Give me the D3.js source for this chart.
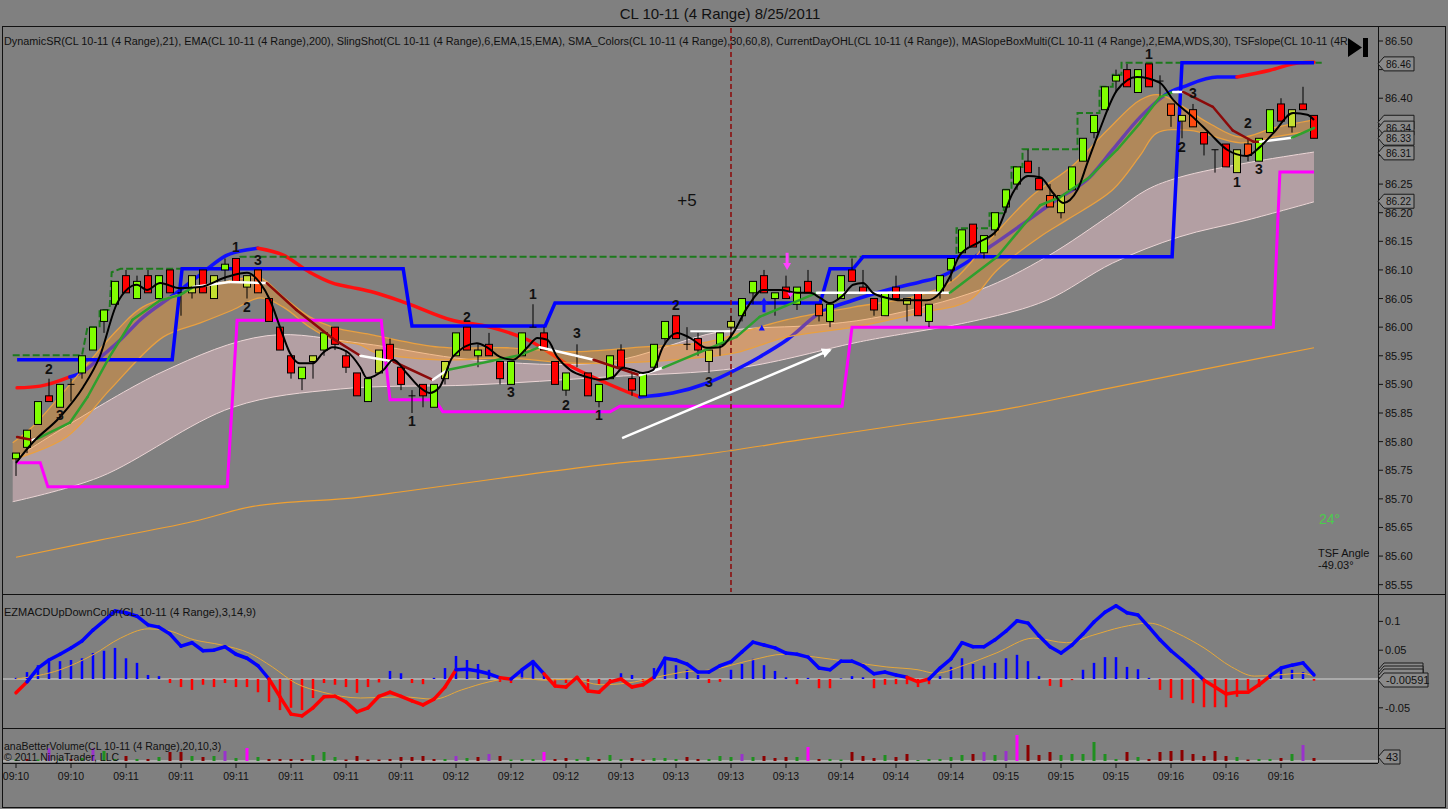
<!DOCTYPE html>
<html>
<head>
<meta charset="utf-8">
<script src="https://cdn.jsdelivr.net/npm/d3@7/dist/d3.min.js"></script>
<style>
  html, body { margin: 0; padding: 0; background: #808080; }
  svg { display: block; font-family: Arial, "Liberation Sans", sans-serif; }
</style>
</head>
<body>
<svg id="chart" width="1448" height="809"></svg>
<script>
// ---- price bars: [open, high, low, close], one per 4-tick range bar
const bars = [
  [85.77,85.78,85.74,85.78],[85.79,85.82,85.78,85.82],[85.83,85.87,85.83,85.87],[85.88,85.91,85.87,85.87],[85.86,85.90,85.86,85.90],
  [85.90,85.91,85.87,85.90],[85.92,85.95,85.91,85.95],[85.96,86.00,85.96,86.00],[86.01,86.03,85.99,86.03],[86.04,86.08,86.04,86.08],
  [86.09,86.10,86.06,86.06],[86.05,86.09,86.05,86.08],[86.09,86.10,86.06,86.06],[86.05,86.09,86.05,86.09],[86.10,86.10,86.06,86.06],
  [86.06,86.07,86.02,86.06],[86.06,86.09,86.05,86.09],[86.10,86.10,86.06,86.06],[86.05,86.09,86.05,86.09],[86.10,86.12,86.08,86.11],
  [86.12,86.12,86.08,86.08],[86.07,86.09,86.05,86.09],[86.10,86.10,86.06,86.06],[86.05,86.05,86.01,86.01],[86.00,86.00,85.96,85.96],
  [85.95,85.95,85.91,85.92],[85.91,85.93,85.89,85.93],[85.94,85.95,85.91,85.95],[85.96,85.99,85.95,85.99],[86.00,86.00,85.96,85.97],
  [85.95,85.96,85.92,85.93],[85.92,85.92,85.88,85.88],[85.87,85.91,85.87,85.91],[85.92,85.96,85.92,85.96],[85.97,85.98,85.94,85.94],
  [85.93,85.93,85.89,85.90],[85.88,85.89,85.85,85.88],[85.90,85.90,85.86,85.88],[85.86,85.90,85.86,85.90],[85.91,85.94,85.90,85.94],
  [85.95,85.99,85.95,85.99],[86.00,86.00,85.96,85.96],[85.95,85.97,85.93,85.96],[85.97,85.99,85.95,85.95],[85.94,85.94,85.90,85.91],
  [85.90,85.94,85.90,85.94],[85.95,85.99,85.95,85.99],[86.00,86.04,86.00,86.00],[85.99,86.00,85.96,85.96],[85.94,85.94,85.90,85.90],
  [85.89,85.92,85.88,85.92],[85.95,85.97,85.93,85.95],[85.92,85.92,85.88,85.88],[85.87,85.90,85.86,85.90],[85.91,85.95,85.91,85.95],
  [85.96,85.97,85.93,85.93],[85.91,85.92,85.88,85.89],[85.88,85.92,85.88,85.92],[85.93,85.97,85.93,85.97],[85.98,86.01,85.97,86.01],
  [86.02,86.02,85.98,85.98],[85.97,86.00,85.96,85.97],[85.98,85.99,85.95,85.96],[85.94,85.96,85.92,85.96],[85.97,85.99,85.95,85.99],
  [86.00,86.02,85.98,86.01],[86.02,86.05,86.01,86.05],[86.06,86.08,86.04,86.08],[86.09,86.10,86.06,86.06],[86.05,86.06,86.02,86.06],
  [86.07,86.09,86.05,86.05],[86.04,86.07,86.03,86.07],[86.08,86.10,86.06,86.06],[86.04,86.04,86.01,86.02],[86.01,86.04,86.00,86.04],
  [86.05,86.09,86.05,86.09],[86.10,86.12,86.08,86.08],[86.07,86.10,86.06,86.06],[86.05,86.05,86.02,86.03],[86.02,86.06,86.02,86.06],
  [86.07,86.09,86.05,86.05],[86.04,86.05,86.01,86.05],[86.06,86.06,86.02,86.02],[86.01,86.04,86.00,86.04],[86.06,86.09,86.05,86.09],
  [86.10,86.12,86.08,86.12],[86.13,86.17,86.13,86.17],[86.18,86.18,86.14,86.14],[86.13,86.16,86.12,86.16],[86.17,86.20,86.16,86.20],
  [86.21,86.24,86.20,86.24],[86.25,86.28,86.24,86.28],[86.29,86.31,86.27,86.27],[86.26,86.28,86.24,86.24],[86.23,86.25,86.21,86.21],
  [86.20,86.23,86.19,86.23],[86.24,86.28,86.24,86.28],[86.29,86.33,86.29,86.33],[86.34,86.37,86.33,86.37],[86.38,86.42,86.38,86.42],
  [86.43,86.45,86.41,86.44],[86.45,86.46,86.42,86.42],[86.41,86.45,86.41,86.45],[86.46,86.46,86.42,86.42],[86.43,86.44,86.40,86.43],
  [86.39,86.39,86.35,86.37],[86.36,86.37,86.33,86.37],[86.38,86.39,86.35,86.35],[86.34,86.34,86.30,86.32],[86.31,86.31,86.27,86.31],
  [86.32,86.32,86.28,86.28],[86.27,86.31,86.27,86.31],[86.32,86.33,86.29,86.30],[86.29,86.33,86.29,86.33],[86.34,86.38,86.34,86.38],
  [86.39,86.40,86.36,86.36],[86.35,86.38,86.34,86.38],[86.39,86.42,86.38,86.38],[86.37,86.37,86.33,86.33]
];
const yellowBars = [16,18,21,27,33,39,63,65,81,95,106,111,116];
const orangeBars = [22,73,94,105,107,112];

const timeLabels = ['09:10','09:10','09:11','09:11','09:11','09:11','09:11','09:11','09:12','09:12','09:12','09:13',
  '09:13','09:13','09:13','09:14','09:14','09:14','09:15','09:15','09:15','09:16','09:16','09:16'];
const priceTicks = d3.range(0, 20).map(k => +(85.55 + k * 0.05).toFixed(2));
const macdTicks = [0.1, 0.05, -0.05];

// ---- overlay indicators, [bar index, price]
const fastMa = [[0,85.763],[1.5,85.798],[4,85.843],[6.1,85.895],[7.6,85.948],[9.2,86.042],[11,86.074],[11.9,86.065],[13.1,86.077],
  [14.9,86.068],[16.7,86.070],[19.2,86.088],[21,86.095],[22.2,86.077],[23.1,86.047],[24,86.000],[24.9,85.955],[25.8,85.937],[27,85.937],
  [27.9,85.955],[28.8,85.965],[30.1,85.957],[31.3,85.930],[31.9,85.911],[33.4,85.925],[34.3,85.943],[35.5,85.920],[36.7,85.895],
  [37.6,85.885],[38.5,85.895],[39.7,85.948],[41.9,85.972],[42.8,85.965],[44,85.948],[45.2,85.943],[46.5,85.965],[47.4,85.981],
  [48.3,85.978],[49.2,85.948],[50.4,85.925],[51.9,85.913],[53.1,85.908],[54.3,85.913],[55.2,85.929],[56.1,85.925],[57,85.920],
  [57.9,85.925],[58.8,85.965],[60.1,85.990],[61.3,85.981],[62.8,85.964],[64,85.965],[65.2,85.990],[66.5,86.035],[67.9,86.065],
  [69.5,86.065],[71,86.060],[72.2,86.060],[73.1,86.051],[74,86.042],[75.2,86.056],[76.1,86.074],[77,86.077],[77.9,86.060],
  [79.2,86.051],[80.4,86.047],[82.8,86.047],[84,86.060],[84.9,86.088],[85.8,86.126],[87.6,86.149],[89.2,86.170],[90.6,86.234],
  [92,86.264],[93.1,86.262],[94.3,86.234],[95.2,86.217],[96.5,86.240],[97.4,86.287],[98.5,86.344],[100.1,86.414],[101.9,86.437],
  [104,86.427],[105.2,86.397],[107,86.367],[108.5,86.339],[110.1,86.310],[111.9,86.299],[113.1,86.315],[114.3,86.339],
  [116.1,86.374],[117.4,86.371],[118,86.362]];
// slope-coloured MA: g rising, r falling, w flat (colour runs to the next point)
const slopeMa = [[0.1,85.808,'r'],[1.5,85.803,'w'],[1.9,85.805,'g'],[4.9,85.833,'g'],[6.5,85.878,'g'],[8.5,85.948,'g'],[10.6,86.013,'g'],
  [13.1,86.047,'g'],[14.9,86.056,'g'],[16.1,86.070,'w'],[19.4,86.079,'w'],[22.8,86.077,'r'],[25.5,86.030,'r'],[28.8,85.980,'r'],
  [31.3,85.950,'w'],[34.3,85.940,'r'],[37.9,85.908,'w'],[39.2,85.925,'g'],[45.8,85.951,'g'],[47.6,85.965,'w'],[52.5,85.943,'r'],
  [56.7,85.916,'w'],[58.8,85.929,'g'],[65.5,85.983,'g'],[67.6,86.018,'g'],[72.8,86.060,'w'],[84.9,86.060,'g'],[89.2,86.123,'g'],
  [93.1,86.213,'g'],[94.9,86.227,'g'],[97.6,86.262,'g'],[100.1,86.310,'g'],[102.2,86.357,'g'],[104,86.402,'g'],[105.2,86.411,'w'],
  [106.1,86.411,'r'],[108.8,86.385,'r'],[110.6,86.344,'r'],[112.5,86.324,'r'],[113.1,86.324,'w'],[116,86.331,'g'],[118,86.348,'g']];
const ema200 = [[0,85.598],[7.6,85.628],[16.7,85.663],[21.3,85.686],[31.3,85.703],[34.9,85.712],[44,85.736],[53.1,85.759],
  [62.2,85.777],[71.3,85.803],[80.4,85.829],[89.5,85.855],[98.5,85.890],[107.6,85.925],[118,85.964]];
const srRed1 = [[0.1,85.894],[2.2,85.897],[4.9,85.913]];
const srBlue1 = [[4.9,85.913],[6.1,85.922],[7.6,85.946],[9.5,85.978],[11.3,86.013],[14.3,86.056],[16.7,86.091],[19.2,86.126],[22,86.138]];
const srRed2 = [[22,86.138],[24.3,86.126],[26.7,86.096],[28.8,86.077],[30.4,86.070],[32.5,86.061],[35.5,86.042],[39.5,86.013],
  [43.1,86.000],[46.5,85.978],[50.6,85.930],[53.7,85.902],[56.7,85.878]];
const srBlue2 = [[56.7,85.878],[59.7,85.885],[62.8,85.902],[65.8,85.929],[67.6,85.948],[70.1,85.978],[73.1,86.025],[76.1,86.047],
  [79.2,86.065],[82.2,86.079],[84,86.088],[88.5,86.140],[91.5,86.180],[94.4,86.220],[97.6,86.262],[99.7,86.310],[102.2,86.367],
  [104.9,86.411],[106.1,86.420],[109.2,86.437],[111,86.437]];
const srRed3 = [[111,86.437],[114,86.449],[116.7,86.462],[118,86.463]];
const pinkUpper = [[-0.3,85.768],[13.1,85.920],[22.8,85.985],[31.3,85.972],[41.5,85.943],[53.7,85.939],[64,85.992],[73.1,86.004],
  [78.5,86.018],[87.6,86.065],[93.7,86.123],[99.7,86.199],[102.8,86.240],[105.8,86.262],[111.9,86.287],[118,86.306]];
const pinkLower = [[-0.3,85.695],[7.6,85.738],[19.7,85.860],[29.5,85.892],[41.5,85.899],[53.7,85.913],[65.8,85.929],[76.1,85.972],
  [78.5,85.981],[87.6,86.013],[93.7,86.047],[99.7,86.112],[105.8,86.158],[111.9,86.187],[118,86.219]];
const orangeUpper = [[-0.3,85.798],[1.5,85.826],[9.2,85.995],[11.5,86.035],[15.5,86.061],[19.7,86.082],[22.2,86.086],[24.3,86.053],
  [26.7,86.018],[28.8,86.000],[32.5,85.986],[38.5,85.965],[44.6,85.964],[50.6,85.957],[56.7,85.965],[62.8,85.974],[65.8,85.990],
  [70.1,86.013],[76.1,86.035],[82.2,86.056],[85.2,86.082],[88.5,86.152],[92.2,86.227],[96.1,86.283],[99.2,86.344],[102.2,86.397],
  [104,86.406],[108.3,86.358],[111.3,86.332],[114.3,86.348],[118,86.362]];
const orangeLower = [[-0.3,85.768],[4.6,85.808],[8.5,85.890],[13.4,85.983],[16.7,86.007],[19.7,86.030],[22.2,86.051],[24.3,86.035],
  [26.7,86.000],[28.8,85.978],[31.3,85.969],[32.5,85.957],[38.5,85.943],[44.6,85.946],[50.6,85.937],[56.7,85.939],[62.8,85.948],
  [65.8,85.957],[70.1,85.983],[76.1,86.000],[82.2,86.025],[86.7,86.047],[89.2,86.100],[93.1,86.158],[95.5,86.187],[99.7,86.240],
  [102.2,86.300],[103.7,86.339],[106.7,86.344],[111.3,86.322],[114.3,86.332],[118,86.344]];
const blueSteps = [[0.1,85.943],[14.2,85.943],[15.1,86.102],[35.2,86.102],[36,86.002],[48.1,86.002],[49,86.042],[73.1,86.042],
  [74,86.102],[76.1,86.102],[77,86.123],[105.1,86.123],[106,86.462],[118,86.462]];
const magentaSteps = [[0.1,85.763],[2.2,85.763],[2.9,85.721],[19.2,85.721],[20.1,86.012],[33.2,86.012],[34,85.873],[38.1,85.873],
  [38.8,85.852],[54,85.852],[54.9,85.862],[75.1,85.862],[76,86.000],[114.3,86.000],[114.9,86.271],[118,86.271]];
const highSteps = [[-0.3,85.951],[6,85.951],[6.5,86.000],[7.6,86.000],[7.6,86.030],[8.5,86.030],[8.7,86.096],[9.5,86.102],
  [19.7,86.102],[20.4,86.123],[85.5,86.123],[85.5,86.173],[88.5,86.173],[88.5,86.199],[89.8,86.199],[89.8,86.240],[90.5,86.240],
  [90.5,86.280],[91.5,86.280],[91.5,86.311],[96.5,86.311],[96.5,86.374],[98.5,86.374],[98.5,86.420],[99.7,86.420],[99.7,86.441],
  [100.5,86.441],[100.5,86.462],[118.7,86.462]];
const flatMark = [[61.3,85.993],[65.1,85.993]];
const trendArrow = [[55.1,85.806],[74,85.960]];
const swingText = ['2','3','1','2','3','1','2','3','1','3','2','1','2','3','1','3','2','2','1','3'];
const swingIdx = [3,4,20,21,22,36,41,45,47,51,50,53,60,63,103,107,106,112,111,113];
const swingPrice = [85.927,85.847,86.140,86.035,86.117,85.836,86.018,85.887,86.058,85.990,85.864,85.847,86.039,85.904,
  86.477,86.409,86.315,86.357,86.254,86.276];
// right-axis value tags: label, price, y offset in px (stacked tags overlap in the original)
const priceTags = [['', 86.358, 0], ['86.34', 86.346, -1], ['86.33', 86.332, 1], ['86.31', 86.308, 2], ['86.22', 86.22, 0], ['86.46', 86.46, 0]];

// ---- MACD panel
const macd = [-0.024,-0.005,0.019,0.033,0.043,0.054,0.066,0.085,0.101,0.118,
  0.115,0.109,0.094,0.090,0.078,0.057,0.063,0.049,0.050,0.056,
  0.043,0.036,0.023,0.000,-0.031,-0.061,-0.064,-0.050,-0.031,-0.030,
  -0.040,-0.057,-0.050,-0.030,-0.023,-0.030,-0.038,-0.045,-0.035,-0.014,
  0.016,0.017,0.014,0.009,0.002,0.000,0.016,0.030,0.009,-0.012,
  -0.014,0.003,-0.021,-0.023,-0.005,0.000,-0.014,-0.010,0.003,0.036,
  0.033,0.026,0.012,0.012,0.023,0.030,0.047,0.064,0.059,0.054,
  0.045,0.043,0.038,0.019,0.016,0.031,0.031,0.023,0.009,0.012,
  0.007,0.003,-0.005,0.000,0.019,0.035,0.063,0.056,0.056,0.068,
  0.083,0.101,0.097,0.075,0.056,0.045,0.059,0.078,0.099,0.116,
  0.127,0.115,0.111,0.090,0.068,0.049,0.033,0.016,-0.002,-0.014,
  -0.026,-0.023,-0.023,-0.010,0.005,0.019,0.024,0.028,0.007];
const macdHist = [0.002,0.012,0.024,0.030,0.031,0.033,0.036,0.045,0.049,0.054,
  0.036,0.028,0.007,0.005,-0.007,-0.014,-0.019,-0.010,-0.014,-0.007,
  -0.014,-0.014,-0.023,-0.040,-0.054,-0.050,-0.054,-0.033,-0.007,-0.010,
  -0.014,-0.024,-0.014,-0.006,0.014,0.010,-0.007,-0.009,0.002,0.019,
  0.040,0.033,0.026,0.016,-0.005,-0.007,0.016,0.030,0.010,-0.014,
  -0.007,0.003,-0.019,-0.010,-0.007,0.010,0.007,-0.005,0.019,0.036,
  0.024,0.016,0.007,-0.007,-0.005,0.016,0.026,0.035,0.024,0.014,
  0.003,-0.009,0.002,-0.016,-0.016,0.001,0.005,0.003,-0.016,-0.010,
  -0.009,-0.009,-0.014,-0.009,0.005,0.021,0.036,0.026,0.023,0.028,
  0.036,0.042,0.031,0.005,-0.012,-0.014,-0.002,0.016,0.028,0.038,
  0.038,0.021,0.017,0.002,-0.019,-0.033,-0.036,-0.042,-0.049,-0.049,
  -0.049,-0.031,-0.019,-0.014,0.005,0.019,0.016,0.012,-0.003];
const macdSignal = [[0,0.000],[4,0.016],[7,0.042],[9.5,0.071],[12,0.087],[13.6,0.085],[16.2,0.068],[18.7,0.059],[21.2,0.045],
  [23.3,0.021],[25.4,-0.007],[27.9,-0.023],[31.3,-0.033],[35.1,-0.031],[38,-0.035],[40.5,-0.019],[43,-0.005],[45.5,0.002],
  [48.1,-0.002],[50.6,0.000],[53.1,-0.010],[55.6,-0.007],[58.2,0.003],[60.6,0.012],[63.2,0.016],[66.9,0.033],[69.8,0.043],
  [72.7,0.038],[75.7,0.030],[79.1,0.021],[82,0.016],[83.6,0.010],[86.2,0.024],[89.1,0.045],[92.5,0.071],[95.5,0.063],
  [97.9,0.076],[100.5,0.090],[103,0.097],[105.5,0.080],[108,0.054],[110.5,0.021],[112.6,0.005],[114.7,0.007],[116.8,0.010],[118,0.005]];

// ---- volume panel
const volume = [15,20,15,127,20,20,30,127,100,20, 50,20,20,40,90,90,50,40,50,100,
  30,130,40,20,20,20,20,60,90,40, 15,50,15,15,20,40,40,50,20,20,
  50,30,40,70,50,15,20,20,90,20, 30,20,40,20,60,20,30,15,30,30,
  20,40,20,20,50,40,70,40,50,30, 40,40,140,20,20,15,90,50,30,60,
  40,70,10,20,20,40,60,70,90,60, 100,260,160,60,90,60,70,70,190,70,
  20,90,40,20,90,100,110,70,50,100, 50,40,15,20,20,30,70,160,30];
const volumeTone = ('gdgpgdgpgg' + 'dgdgddgdgp' + 'gmgddddggg' + 'dddddddddg' + 'pgdpdgggmd' + 'dggdggddgg' +
  'gddgggpgdd' + 'dgmdggdddg' + 'ddgggggdpg' + 'pmdddggggg' + 'gdgddddddd' + 'dgdggdgpd').split('');

const legendMain = 'DynamicSR(CL 10-11 (4 Range),21), EMA(CL 10-11 (4 Range),200), SlingShot(CL 10-11 (4 Range),6,EMA,15,EMA), ' +
  'SMA_Colors(CL 10-11 (4 Range),30,60,8), CurrentDayOHL(CL 10-11 (4 Range)), MASlopeBoxMulti(CL 10-11 (4 Range),2,EMA,WDS,30), TSFslope(CL 10-11 (4R';

class RangeChart {
  constructor(sel) {
    this.svg = d3.select(sel);
    this.axisX = 1378;
    this.x = d3.scaleLinear().domain([0, 118]).range([16, 1314]);
    this.y = d3.scaleLinear().domain([85.55, 86.50]).range([584.7, 41]);
    this.ym = d3.scaleLinear().domain([-0.05, 0.1]).range([707.8, 621.4]);
    this.yv = d3.scaleLinear().domain([0, 320]).range([761, 729]);
    this.setupFrame();
    this.drawPrice();
    this.drawMacd();
    this.drawVolume();
    this.drawAxes();
  }
  setupFrame() {
    const defs = this.svg.append('defs');
    defs.append('clipPath').attr('id', 'clipMain').append('rect').attr('x', 3).attr('y', 27).attr('width', 1375).attr('height', 567);
    defs.append('clipPath').attr('id', 'clipMacd').append('rect').attr('x', 3).attr('y', 595).attr('width', 1375).attr('height', 133);
    defs.append('marker').attr('id', 'head').attr('viewBox', '0 0 10 10').attr('refX', 8).attr('refY', 5)
      .attr('markerWidth', 4).attr('markerHeight', 4).attr('orient', 'auto')
      .append('path').attr('d', 'M0,0 L10,5 L0,10 Z').attr('fill', '#fff');
    this.svg.append('rect').attr('width', 1448).attr('height', 809).attr('fill', '#808080');
    this.svg.append('text').attr('x', 720).attr('y', 19).attr('text-anchor', 'middle')
      .attr('font-size', 15).attr('fill', '#111').text('CL 10-11 (4 Range)  8/25/2011');
  }
  path(pts, curve) {
    return d3.line().x(d => this.x(d[0])).y(d => this.y(d[1])).curve(curve || d3.curveLinear)(pts);
  }
  band(g, upper, lower, fill, edge, edgeW) {
    const cr = d3.curveCatmullRom.alpha(0.5);
    const up = this.path(upper, cr);
    const lo = this.path(lower.slice().reverse(), cr);
    g.append('path').attr('d', up + 'L' + lo.slice(1) + 'Z').attr('fill', fill);
    [upper, lower].forEach(e => g.append('path').attr('d', this.path(e, cr))
      .attr('fill', 'none').attr('stroke', edge).attr('stroke-width', edgeW));
  }
  drawPrice() {
    const g = this.svg.append('g').attr('clip-path', 'url(#clipMain)');
    const x = this.x, y = this.y;
    const smooth = d3.curveMonotoneX;

    this.band(g, pinkUpper, pinkLower, 'rgba(255,205,215,0.40)', '#ecd6d6', 1);
    [[srRed1, '#ff1010'], [srBlue1, '#1010ff'], [srRed2, '#ff1010'], [srBlue2, '#1010ff'], [srRed3, '#ff1010']]
      .forEach(([pts, c]) => g.append('path').attr('d', this.path(pts, smooth)).attr('fill', 'none')
        .attr('stroke', c).attr('stroke-width', 3.5).attr('stroke-linecap', 'round'));
    this.band(g, orangeUpper, orangeLower, 'rgba(255,150,30,0.38)', '#e9a040', 1.3);
    g.append('path').attr('d', this.path(ema200, smooth)).attr('fill', 'none').attr('stroke', '#f0a030').attr('stroke-width', 1.2);

    g.append('path').attr('d', this.path(highSteps)).attr('fill', 'none').attr('stroke', '#1c7a1c')
      .attr('stroke-width', 2).attr('stroke-dasharray', '7,3');
    g.append('path').attr('d', this.path(blueSteps)).attr('fill', 'none').attr('stroke', '#0000ff').attr('stroke-width', 3.5);
    g.append('path').attr('d', this.path(magentaSteps)).attr('fill', 'none').attr('stroke', '#ff00ff').attr('stroke-width', 3);
    g.append('line').attr('x1', x(65)).attr('x2', x(65)).attr('y1', 28).attr('y2', 592)
      .attr('stroke', '#8b1010').attr('stroke-width', 1.6).attr('stroke-dasharray', '5,3');
    g.append('path').attr('d', this.path(flatMark)).attr('stroke', '#fff').attr('stroke-width', 2);
    g.append('path').attr('d', this.path(trendArrow)).attr('stroke', '#fff').attr('stroke-width', 2.5)
      .attr('marker-end', 'url(#head)');

    // candles (keep the bar index with each bar so filtered selections stay in place)
    const up = new Set(yellowBars), dn = new Set(orangeBars);
    const rows = bars.map((b, i) => ({ i, o: b[0], h: b[1], l: b[2], c: b[3] }));
    const cg = g.selectAll('g.bar').data(rows).join('g').attr('class', 'bar');
    cg.append('line').attr('x1', d => x(d.i)).attr('x2', d => x(d.i))
      .attr('y1', d => y(d.h)).attr('y2', d => y(d.l)).attr('stroke', '#000').attr('stroke-width', 1);
    cg.filter(d => d.o !== d.c).append('rect')
      .attr('x', d => x(d.i) - 3.5).attr('width', 7)
      .attr('y', d => y(Math.max(d.o, d.c))).attr('height', d => Math.abs(y(d.o) - y(d.c)))
      .attr('fill', d => d.c > d.o ? (up.has(d.i) ? '#c4e030' : '#80ff00') : (dn.has(d.i) ? '#ff4a10' : '#ff0000'))
      .attr('stroke', '#000').attr('stroke-width', 1);
    cg.filter(d => d.o === d.c).append('line')
      .attr('x1', d => x(d.i) - 3.5).attr('x2', d => x(d.i) + 3.5)
      .attr('y1', d => y(d.o)).attr('y2', d => y(d.o)).attr('stroke', '#000');

    const tones = { g: '#2ea02e', r: '#8b0a0a', w: '#ffffff' };
    slopeMa.slice(0, -1).forEach((d, k) => {
      g.append('path').attr('d', this.path([d, slopeMa[k + 1]])).attr('stroke', tones[d[2]])
        .attr('stroke-width', 2.5).attr('stroke-linecap', 'round');
    });
    g.append('path').attr('d', this.path(fastMa, smooth)).attr('fill', 'none').attr('stroke', '#000').attr('stroke-width', 2);

    // signal arrows
    g.append('path').attr('d', `M${x(70.1)},${y(86.13)} V${y(86.11)}`).attr('stroke', '#ff40ff').attr('stroke-width', 3);
    g.append('path').attr('d', `M${x(70.1) - 4},${y(86.112)} L${x(70.1) + 4},${y(86.112)} L${x(70.1)},${y(86.100)} Z`).attr('fill', '#ff40ff');
    g.append('path').attr('d', `M${x(70.4) - 3},${y(86.060)} L${x(70.4) + 3},${y(86.060)} L${x(70.4)},${y(86.052)} Z`).attr('fill', '#ff40ff');
    g.append('path').attr('d', `M${x(68)},${y(86.026)} V${y(86.042)}`).attr('stroke', '#1010ff').attr('stroke-width', 3);
    g.append('path').attr('d', `M${x(68) - 4},${y(86.040)} L${x(68) + 4},${y(86.040)} L${x(68)},${y(86.052)} Z`).attr('fill', '#1010ff');
    g.append('path').attr('d', `M${x(67.8) - 3},${y(85.994)} L${x(67.8) + 3},${y(85.994)} L${x(67.8)},${y(86.004)} Z`).attr('fill', '#1010ff');

    g.selectAll('text.swing').data(swingText).join('text').attr('class', 'swing')
      .attr('x', (d, k) => x(swingIdx[k])).attr('y', (d, k) => y(swingPrice[k]) + 5)
      .attr('text-anchor', 'middle').attr('font-size', 14).attr('font-weight', 'bold').attr('fill', '#111').text(d => d);
    g.append('text').attr('x', x(61)).attr('y', y(86.222) + 6).attr('text-anchor', 'middle')
      .attr('font-size', 17).attr('fill', '#111').text('+5');
    g.append('text').attr('x', 1319).attr('y', 524).attr('font-size', 14).attr('fill', '#4ccc4c').text('24°');
    g.append('text').attr('x', 1318).attr('y', 557).attr('font-size', 11).attr('fill', '#111').text('TSF Angle');
    g.append('text').attr('x', 1318).attr('y', 569).attr('font-size', 11).attr('fill', '#111').text('-49.03°');

    g.append('text').attr('x', 4).attr('y', 45).attr('font-size', 10.85).attr('fill', '#111').text(legendMain);
    g.append('path').attr('d', 'M1348,38 L1362,47.5 L1348,57 Z M1363,38 H1368 V57 H1363 Z').attr('fill', '#000');
  }
  drawMacd() {
    const g = this.svg.append('g').attr('clip-path', 'url(#clipMacd)');
    const x = this.x, ym = this.ym;
    g.append('line').attr('x1', 3).attr('x2', this.axisX).attr('y1', ym(0)).attr('y2', ym(0))
      .attr('stroke', '#d4d4d4').attr('stroke-width', 1);
    g.selectAll('line.hist').data(macdHist).join('line').attr('class', 'hist')
      .attr('x1', (d, i) => x(i)).attr('x2', (d, i) => x(i)).attr('y1', ym(0)).attr('y2', d => ym(d))
      .attr('stroke', d => d >= 0 ? '#0000ff' : '#ff0000').attr('stroke-width', 2.5);
    g.append('path').attr('d', d3.line().x(d => x(d[0])).y(d => ym(d[1])).curve(d3.curveMonotoneX)(macdSignal))
      .attr('fill', 'none').attr('stroke', '#e6a83a').attr('stroke-width', 1);
    macd.slice(0, -1).forEach((v, i) => {
      const mid = (v + macd[i + 1]) / 2;
      g.append('line').attr('x1', x(i)).attr('x2', x(i + 1)).attr('y1', ym(v)).attr('y2', ym(macd[i + 1]))
        .attr('stroke', mid < 0.002 ? '#ff0000' : '#0000ff').attr('stroke-width', 3.5).attr('stroke-linecap', 'round');
    });
    g.append('text').attr('x', 4).attr('y', 616).attr('font-size', 11).attr('fill', '#111')
      .text('EZMACDUpDownColor(CL 10-11 (4 Range),3,14,9)');
  }
  drawVolume() {
    const x = this.x, yv = this.yv;
    const tone = { g: '#1f8f1f', d: '#8b0000', p: '#9932cc', m: '#ff00ff' };
    this.svg.append('line').attr('x1', 3).attr('x2', this.axisX).attr('y1', 761).attr('y2', 761)
      .attr('stroke', '#d8d8d8').attr('stroke-width', 1);
    this.svg.selectAll('rect.vol').data(volume).join('rect').attr('class', 'vol')
      .attr('x', (d, i) => x(i) - 1.5).attr('width', 3)
      .attr('y', d => yv(d)).attr('height', d => yv(0) - yv(d))
      .attr('fill', (d, i) => tone[volumeTone[i]]);
    this.svg.append('text').attr('x', 4).attr('y', 750).attr('font-size', 10.5).attr('fill', '#111')
      .text('anaBetterVolume(CL 10-11 (4 Range),20,10,3)');
    this.svg.append('text').attr('x', 4).attr('y', 761).attr('font-size', 10.5).attr('fill', '#111')
      .text('© 2011 NinjaTrader, LLC');
  }
  tag(yPos, label, w, g, fs) {
    const a = this.axisX;
    g.append('path').attr('d', `M${a},${yPos} L${a + 6},${yPos - 7} H${a + w} V${yPos + 7} H${a + 6} Z`)
      .attr('fill', '#8a8a8a').attr('stroke', '#1a1a1a').attr('stroke-width', 1);
    if (label) g.append('text').attr('x', a + 8).attr('y', yPos + 4).attr('font-size', fs || 11).attr('fill', '#111').text(label);
  }
  drawAxes() {
    const s = this.svg, a = this.axisX;
    // frame and separators
    s.append('rect').attr('x', 2.5).attr('y', 26.5).attr('width', 1443).attr('height', 781)
      .attr('fill', 'none').attr('stroke', '#111');
    [594.5, 728.5].forEach(v => s.append('line').attr('x1', 2).attr('x2', 1446).attr('y1', v).attr('y2', v).attr('stroke', '#111'));
    s.append('line').attr('x1', a + 0.5).attr('x2', a + 0.5).attr('y1', 27).attr('y2', 763).attr('stroke', '#111');
    s.append('line').attr('x1', 2).attr('x2', a).attr('y1', 763.5).attr('y2', 763.5).attr('stroke', '#111');

    const g = s.append('g').attr('font-size', 11).attr('fill', '#111');
    const fmt = d3.format('.2f');
    const covered = p => priceTags.some(t => Math.abs(this.y(t[1]) - this.y(p)) < 10);
    priceTicks.forEach(p => {
      g.append('line').attr('x1', a).attr('x2', a + 5).attr('y1', this.y(p)).attr('y2', this.y(p)).attr('stroke', '#111');
      if (!covered(p)) g.append('text').attr('x', a + 7).attr('y', this.y(p) + 4).text(fmt(p));
    });
    macdTicks.forEach(v => {
      g.append('line').attr('x1', a).attr('x2', a + 5).attr('y1', this.ym(v)).attr('y2', this.ym(v)).attr('stroke', '#111');
      g.append('text').attr('x', a + 7).attr('y', this.ym(v) + 4).text(v);
    });
    priceTags.forEach(([lab, p, off]) => this.tag(this.y(p) + off, lab, 36, g, 10));
    [670, 673, 676].forEach(v => this.tag(v, '', 45, g));
    this.tag(680, '-0.00591', 50, g);
    this.tag(757, '43', 22, g);

    timeLabels.forEach((t, k) => {
      const xp = this.x(k * 5);
      g.append('line').attr('x1', xp).attr('x2', xp).attr('y1', 763).attr('y2', 768).attr('stroke', '#111');
      g.append('text').attr('x', xp).attr('y', 780).attr('text-anchor', 'middle').attr('font-size', 10.5).text(t);
    });
  }
}

new RangeChart('#chart');
</script>
</body>
</html>
